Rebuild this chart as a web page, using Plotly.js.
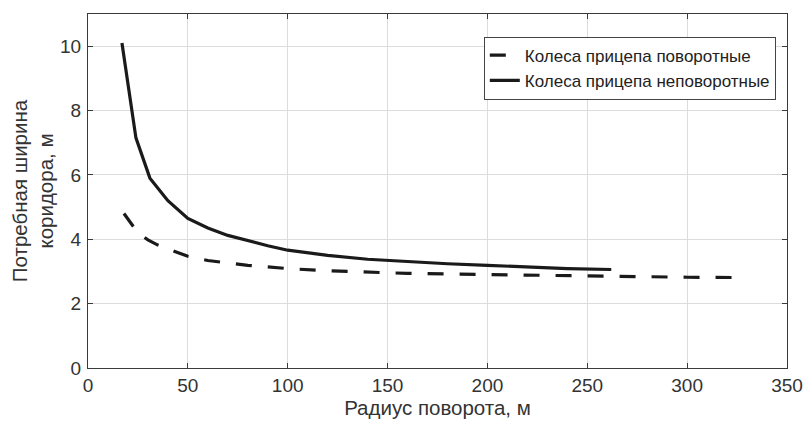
<!DOCTYPE html>
<html>
<head>
<meta charset="utf-8">
<script src="https://cdn.plot.ly/plotly-3.0.1.min.js"></script>
<style>html,body{margin:0;padding:0;background:#fff;}#chart{width:803px;height:421px;}</style>
</head>
<body>
<div id="chart"></div>
<script>
// Radius of turn, m
const radiusSteered = [18, 25, 30, 35, 40, 50, 60, 70, 80, 90, 100, 120, 140, 160, 180, 200, 220, 240, 260, 280, 300, 327];
const widthSteered  = [4.8, 4.2, 3.98, 3.82, 3.7, 3.47, 3.34, 3.26, 3.19, 3.14, 3.09, 3.02, 2.97, 2.94, 2.92, 2.9, 2.88, 2.86, 2.85, 2.83, 2.82, 2.81];
const radiusFixed = [17, 24, 31, 40, 50, 60, 70, 80, 90, 100, 120, 140, 160, 180, 200, 220, 240, 262];
const widthFixed  = [10.1, 7.15, 5.9, 5.2, 4.65, 4.35, 4.12, 3.95, 3.8, 3.66, 3.5, 3.38, 3.3, 3.24, 3.19, 3.13, 3.09, 3.06];
const seriesNames = ["Колеса прицепа поворотные", "Колеса прицепа неповоротные"];
const xTicks = [0, 50, 100, 150, 200, 250, 300, 350];
const yTicks = [0, 2, 4, 6, 8, 10];

const font = "Liberation Sans";
const data = [
  {x: radiusSteered, y: widthSteered, name: seriesNames[0], mode: "lines",
   line: {color: "#1a1a1a", width: 3.2, dash: "16px,16px"}},
  {x: radiusFixed, y: widthFixed, name: seriesNames[1], mode: "lines",
   line: {color: "#1a1a1a", width: 3.2}}
];
const axisCommon = {
  showline: true, linecolor: "#3a3a3a", linewidth: 1, mirror: "allticks",
  ticks: "inside", ticklen: 5, tickcolor: "#3a3a3a",
  showgrid: true, gridcolor: "#dcdcdc", gridwidth: 1, zeroline: false,
  tickfont: {family: font, size: 19, color: "#333"}
};
const layout = {
  width: 803, height: 421,
  margin: {l: 88, r: 16, t: 14, b: 53},
  paper_bgcolor: "#fff", plot_bgcolor: "#fff",
  font: {family: font, color: "#333"},
  xaxis: Object.assign({}, axisCommon, {
    range: [0, 350], tickvals: xTicks, ticklabelstandoff: 0,
    title: {text: "Радиус поворота, м", font: {family: font, size: 20.5, color: "#333"}, standoff: 0}
  }),
  yaxis: Object.assign({}, axisCommon, {
    range: [0, 11], tickvals: yTicks, ticklabelstandoff: 2,
    title: {text: "Потребная ширина<br>коридора, м", font: {family: font, size: 20.5, color: "#333"}, standoff: 0}
  }),
  showlegend: true,
  legend: {
    x: 0.984, y: 0.936, xanchor: "right", yanchor: "top",
    bgcolor: "#fff", bordercolor: "#444", borderwidth: 1,
    font: {family: font, size: 17, color: "#222"},
    tracegroupgap: 0, itemwidth: 30
  }
};
Plotly.newPlot("chart", data, layout, {displayModeBar: false, staticPlot: true});
</script>
</body>
</html>
